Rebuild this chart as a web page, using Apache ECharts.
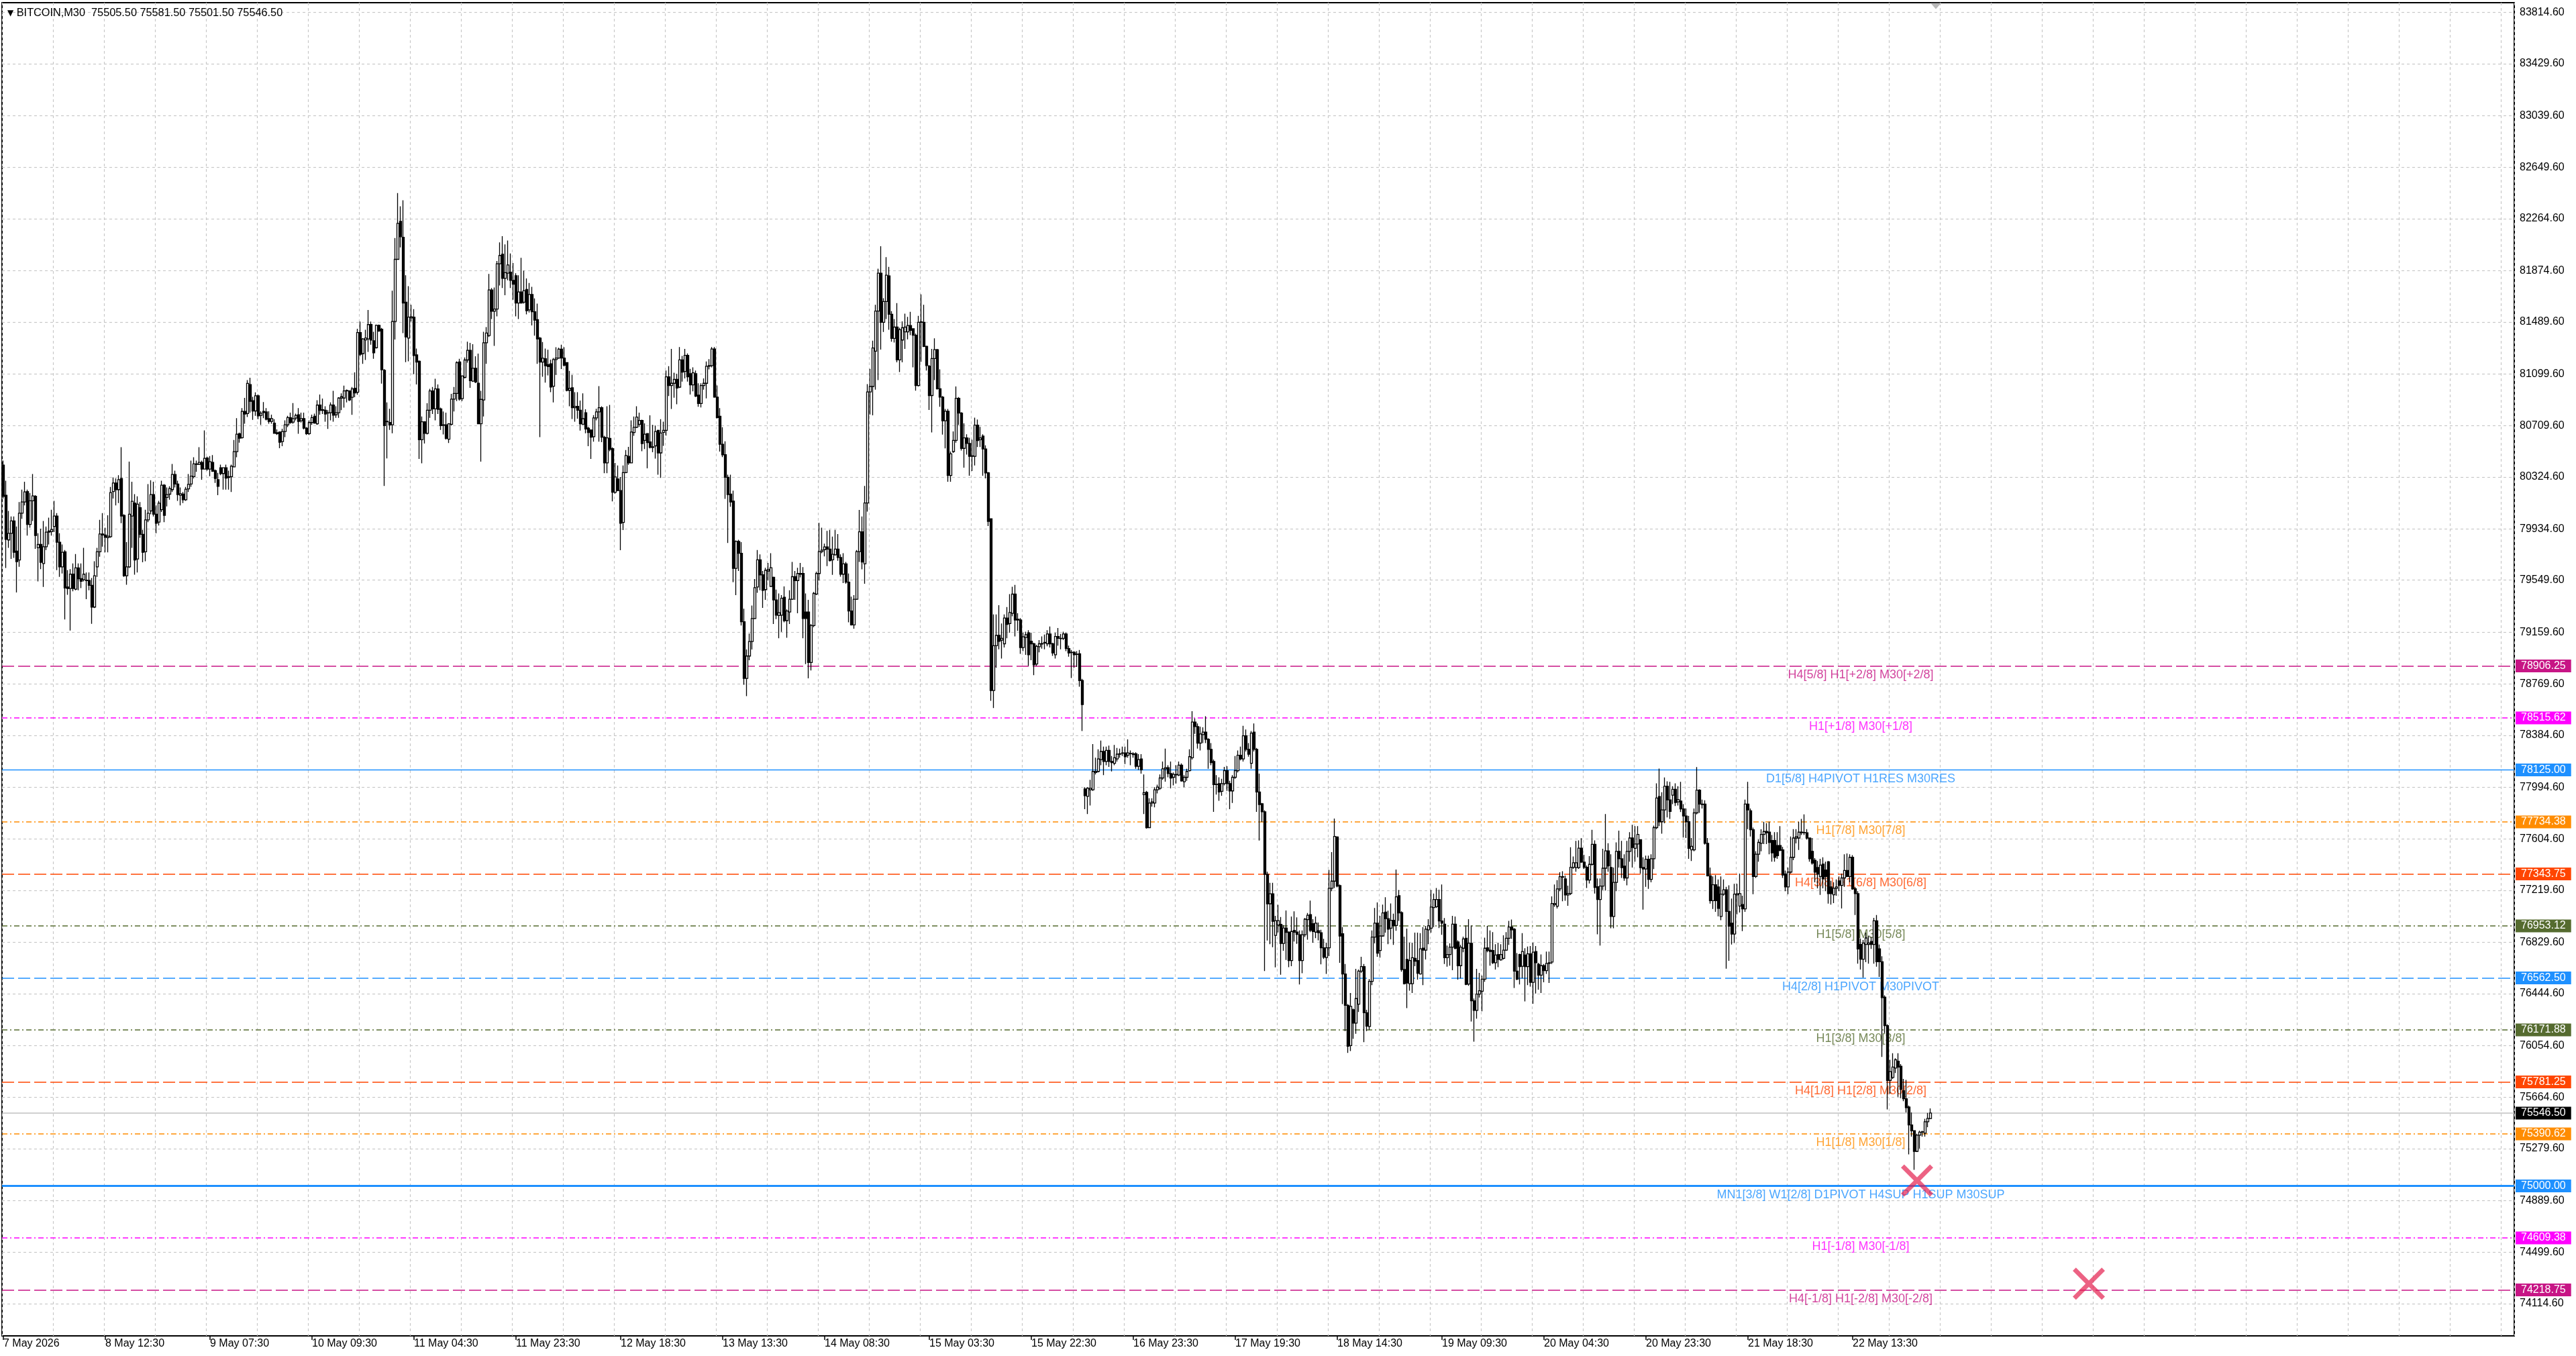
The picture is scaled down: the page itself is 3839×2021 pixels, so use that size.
<!DOCTYPE html>
<html><head><meta charset="utf-8">
<script src="https://cdn.jsdelivr.net/npm/echarts@6/dist/echarts.min.js"></script>
<style>html,body{margin:0;padding:0;background:#fff;overflow:hidden}#c{width:3839px;height:2021px}</style>
</head><body><div id="c"></div>
<script>
const symbolName = 'BITCOIN';
const timeframe = 'M30';
// [open, close, low, high]
const candles = [
[80415,80179,80163,80448],[80188,79857,79642,80297],[79852,79902,79793,80070],[79902,79995,79709,80028],[79995,79759,79717,80028],
[79768,79689,79457,79953],[79701,80053,79650,80137],[80053,80137,80011,80230],[80137,80213,80112,80289],[80216,79969,79885,80230],
[79969,80146,79944,80205],[80146,80183,79995,80347],[80180,79885,79785,80188],[79793,79818,79541,79902],[79818,79684,79633,79936],
[79675,79801,79499,79995],[79801,79911,79776,79953],[79919,79911,79818,80020],[79914,79931,79885,80079],[79953,80032,79911,80146],
[80032,79835,79625,80053],[79835,79650,79575,79902],[79650,79759,79600,79818],[79763,79491,79255,79776],[79499,79487,79440,79625],
[79487,79595,79171,79633],[79595,79487,79466,79675],[79482,79642,79474,79746],[79642,79561,79474,79675],[79561,79541,79491,79675],
[79554,79595,79541,79793],[79550,79547,79407,79608],[79547,79511,79474,79608],[79511,79348,79222,79566],[79348,79583,79340,79692],
[79650,79763,79575,79793],[79763,79897,79726,80003],[79897,79889,79801,80053],[79889,79872,79759,79944],[79869,79880,79759,80037],
[79877,80208,79869,80250],[80216,80280,80163,80322],[80280,80230,80112,80314],[80230,80305,80129,80339],[80314,80032,79978,80549],
[80037,79583,79575,80045],[79583,79650,79516,79835],[79650,80045,79642,80440],[80032,80142,79793,80289],[80129,79701,79591,80196],
[79709,80121,79608,80179],[80095,79894,79869,80137],[79894,79759,79684,79927],[79763,80003,79692,80079],[80003,80053,79986,80272],
[80070,80193,80045,80300],[80193,80045,80028,80289],[80045,79978,79902,80112],[79986,80129,79961,80146],[80079,80263,80062,80297],
[80263,80037,79986,80272],[80171,80193,80104,80247],[80196,80238,80154,80255],[80230,80344,80213,80423],[80344,80272,80247,80373],
[80272,80193,80146,80297],[80188,80199,80112,80247],[80196,80154,80129,80213],[80154,80233,80146,80250],[80236,80270,80213,80347],
[80272,80331,80252,80448],[80328,80423,80314,80473],[80423,80420,80364,80448],[80420,80435,80415,80549],[80435,80384,80305,80448],
[80384,80465,80381,80675],[80468,80384,80373,80478],[80384,80440,80331,80482],[80435,80368,80364,80490],[80373,80314,80280,80381],
[80305,80255,80188,80356],[80394,80351,80339,80418],[80351,80394,80230,80398],[80394,80317,80230,80418],[80322,80327,80230,80373],
[80327,80406,80213,80418],[80401,80515,80398,80603],[80515,80646,80473,80767],[80650,80616,80583,80658],[80620,80818,80613,80843],
[80818,80798,80725,80919],[80801,81028,80776,81053],[81019,80893,80809,81070],[80898,80821,80754,80927],[80821,80935,80784,80961],
[80935,80784,80759,80944],[80788,80804,80717,80818],[80818,80809,80767,80888],[80814,80759,80751,80843],[80764,80742,80725,80818],
[80742,80764,80725,80793],[80730,80653,80650,80759],[80658,80650,80641,80683],[80663,80586,80541,80667],[80591,80667,80557,80687],
[80667,80717,80625,80751],[80717,80771,80700,80784],[80771,80734,80725,80809],[80737,80764,80725,80880],[80767,80788,80751,80801],
[80793,80742,80650,80843],[80747,80764,80734,80809],[80764,80692,80683,80809],[80692,80650,80641,80700],[80650,80734,80641,80751],
[80734,80771,80717,80793],[80781,80730,80725,80801],[80725,80865,80717,80902],[80865,80826,80793,80944],
[80830,80825,80798,80914],[80827,80798,80740,80856],[80805,80808,80686,80827],[80808,80866,80750,80885],[80866,80789,80740,80972],
[80792,80808,80769,80856],[80808,80918,80769,80924],[80918,80928,80827,80953],[80918,80972,80846,81011],[80972,80975,80885,80982],
[80972,80904,80895,80976],[80924,80987,80792,81001],[80991,80956,80924,81111],[80962,81410,80943,81439],[81410,81246,81232,81493],
[81252,81362,81175,81368],[81355,81368,81204,81431],[81362,81470,81265,81580],[81470,81354,81319,81493],[81348,81258,81213,81416],
[81296,81464,81290,81470],[81464,81422,81416,81470],[81435,81130,81026,81445],[81126,80711,80258,81136],[80740,80743,80464,80885],
[80735,80717,80678,80837],[80717,81493,80653,81725],[81493,81960,81358,82120],[81960,82230,81956,82458],[82246,82130,82049,82358],
[82126,81632,81406,82404],[81638,81377,81188,81840],[81368,81526,81194,81759],[81520,81528,81493,81618],[81526,81238,81097,81586],
[81242,81188,81020,81290],[81194,80605,80460,81200],[80605,80740,80428,80779],[80740,80653,80576,80744],[80653,80827,80644,80879],
[80827,80972,80769,80987],[80972,80837,80798,81001],[80837,80987,80750,81063],[80987,80833,80798,81020],[80837,80711,80678,80846],
[80717,80714,80644,80817],[80717,80615,80605,80808],[80609,80725,80580,80729],[80721,80910,80711,80949],[80910,80953,80817,81001],
[80953,81184,80895,81194],[81190,80910,80899,81213],[80914,81084,80895,81088],[81073,81204,81065,81223],[81204,81277,81184,81342],
[81277,81049,80995,81333],[81045,81142,81039,81323],[81142,81039,81030,81232],[81030,80725,80721,81252],[80725,80908,80441,80972],
[80904,81333,80779,81416],[81333,81406,81175,81451],[81387,81730,81377,81850],[81730,81570,81512,81744],[81570,81586,81310,81748],
[81586,81927,81532,81947],[81927,81989,81763,82087],[81999,81817,81744,82134],[81817,81860,81690,82072],[81856,81918,81802,82101],
[81864,81802,81744,82004],[81802,81773,81657,81933],[81837,81632,81532,81856],[81632,81715,81512,81840],[81715,81632,81628,81972],
[81638,81725,81628,81875],[81734,81574,81547,81817],[81580,81696,81561,81782],[81696,81566,81464,81754],[81566,81503,81387,81667],
[81507,81362,81175,81628],[81368,81188,80624,81377],[81188,81217,81078,81339],[81213,81161,81034,81290],[81169,81155,81088,81281],
[81175,81001,80962,81207],[81007,81207,80885,81219],[81207,81219,81092,81300],[81219,81285,81213,81296],[81285,81219,81136,81319],
[81219,81165,81155,81300],[81184,80976,80968,81188],[80976,80991,80856,81122],[80995,80846,80760,81092],[80846,80856,80740,80962],
[80856,80827,80763,80962],[80827,80725,80673,80899],[80721,80763,80717,80953],[80808,80686,80653,80833],[80692,80659,80557,80702],
[80678,80624,80460,80682],[80628,80769,80590,80789],[80769,80814,80750,80837],[80814,80846,80590,81007],[80846,80624,80586,80856],
[80624,80431,80354,80634],[80431,80619,80354,80856],[80615,80532,80518,80866],[80538,80210,80142,80547],[80210,80325,80200,80431],
[80310,80223,80219,80412],[80223,79978,79775,80325],[79984,80358,79926,80412],[80358,80486,80354,80528],[80480,80431,80416,80551],
[80431,80663,80428,80750],[80659,80698,80634,80779],[80698,80775,80692,80856],[80721,80750,80702,80808],[80750,80576,80518,80756],
[80600,80646,80535,80728],[80651,80583,80390,80655],[80588,80547,80540,80788],[80547,80552,80511,80716],[80559,80667,80463,80711],
[80675,80506,80342,80680],[80506,80655,80318,80759],[80660,80675,80559,80740],[80675,81077,80636,81125],[81077,81012,80933,81157],
[81012,81029,80836,81287],[81029,81058,80920,81108],[81058,80993,80872,81101],[81000,81205,80993,81301],[81205,81113,81041,81234],
[81118,81239,81065,81287],[81239,81077,81041,81253],[81101,81017,80945,81137],[81017,81108,80969,81149],[81101,80933,80925,81125],
[80940,80877,80853,81029],[80877,81012,80848,81029],[81012,81029,80981,81065],[81029,81157,80916,81193],[81157,81162,81133,81210],
[81162,81287,81149,81301],[81287,80925,80920,81301],[80925,80771,80764,81012],[80781,80571,80516,80843],[80571,80492,80475,80699],
[80492,80323,80161,80593],[80323,80193,79829,80342],[80197,80137,80101,80342],[80144,79638,79535,80222],[79638,79841,79438,79848],
[79841,79752,79619,79853],[79752,79238,79209,79836],[79238,78812,78764,79335],[78812,78980,78679,79029],[78980,79089,78949,79149],
[79089,79262,79029,79359],[79262,79494,79257,79559],[79499,79703,79455,79776],[79703,79590,79474,79744],[79590,79474,79342,79619],
[79479,79624,79402,79643],[79619,79631,79547,79679],[79503,79643,79499,79752],[79571,79402,79221,79576],[79402,79287,79257,79479],
[79284,79306,79113,79450],[79287,79414,79161,79438],[79421,79246,79233,79503],[79246,79318,79118,79330],[79311,79407,79221,79474],
[79407,79576,79402,79687],[79576,79547,79402,79619],[79547,79600,79301,79643],[79595,79600,79571,79679],[79600,79262,79113,79648],
[79311,79262,78920,79450],[79311,78932,78812,79402],[78932,79209,78872,79221],[79209,79450,79197,79462],[79446,79600,79438,79614],
[79600,79764,79547,79981],[79764,79776,79752,79944],[79779,79800,79728,79824],[79800,79783,79655,79920],[79783,79696,79691,79927],
[79703,79744,79590,79877],[79740,79783,79735,79927],[79783,79720,79696,79896],[79720,79595,79576,79744],[79595,79672,79528,79752],
[79672,79535,79523,79687],[79535,79318,79233,79600],[79318,79214,79209,79426],[79214,79407,79185,79438],[79407,79764,79402,79776],
[79764,79913,79687,80077],[79913,79687,79631,80029],[79672,80130,79523,80258],[80130,80964,80065,81022],[80964,81005,80795,81137],
[81005,81294,80788,81349],[81270,81571,80981,81619],[81571,81856,81053,81889],[81856,81487,81282,82058],[81487,81643,81415,81668],
[81643,81841,81511,81976],[81836,81547,81431,81904],[81547,81366,81342,81571],[81366,81451,81335,81511],[81451,81205,81186,81631],
[81205,81431,81113,81446],[81354,81446,81186,81494],[81415,81451,81287,81552],[81415,81463,81359,81528],[81463,81427,81390,81566],
[81439,81390,81149,81439],[81390,81012,80974,81402],[81012,81487,81005,81535],[81487,81490,81190,81697],[81487,81306,81301,81619],
[81306,81162,81125,81311],[81157,80937,80829,81166],[80937,81215,80660,81287],[81215,81282,81053,81366],[81282,80988,80981,81287],
[80988,80925,80853,81133],[80925,80747,80643,80933],[80747,80819,80540,80836],[80819,80337,80289,80836],[80337,80499,80289,80516],
[80516,80600,80506,80667],[80600,80916,80583,81005],[80916,80805,80716,80925],[80805,80540,80523,80812],[80540,80619,80395,80728],
[80619,80577,80494,80646],[80577,80480,80334,80619],[80480,80484,80370,80605],[80480,80715,80411,80771],[80715,80599,80550,80757],
[80605,80619,80550,80701],[80632,80536,80334,80646],[80536,80356,80315,80563],[80356,79992,79956,80362],[80011,78721,78644,80011],
[78721,79058,78589,79293],[79058,79135,78892,79293],[79135,79091,79030,79362],[79099,79113,78961,79224],[79072,79265,79044,79293],
[79265,79218,79113,79348],[79224,79307,79155,79445],[79301,79445,79279,79500],[79445,79251,79127,79514],[79256,79251,79169,79301],
[79251,79044,78997,79265],[79044,79124,79017,79155],[79119,79141,78989,79163],[79155,78989,78906,79174],[79091,79072,78948,79155],
[79072,78914,78837,79080],[78920,79053,78906,79064],[79050,79072,79008,79100],[79070,79074,79036,79127],[79078,79082,79030,79141],
[79072,79146,79053,79174],[79146,79072,79044,79202],[79072,79003,78981,79080],[78989,79127,78961,79155],[79127,79113,79058,79191],
[79113,79111,79030,79146],[79113,79146,79100,79163],[79146,79036,79017,79155],[79036,79003,78975,79058],[79008,79006,78815,79025],
[79008,78989,78892,79017],[78992,78995,78898,79017],[78997,78796,78749,79025],[78796,78616,78417,78809],[77981,77931,77829,77995],
[77926,77986,77793,77995],[77975,77986,77857,78050],[77975,78113,77967,78318],[78105,78113,78091,78216],[78113,78207,78105,78279],
[78202,78263,78160,78345],[78263,78188,78086,78299],[78188,78271,78160,78299],[78271,78188,78147,78307],[78188,78180,78113,78229],
[78174,78216,78160,78312],[78207,78243,78188,78290],[78243,78246,78216,78285],[78250,78252,78229,78299],[78252,78224,78169,78299],
[78235,78252,78216,78354],[78248,78246,78160,78271],[78246,78240,78216,78257],[78246,78152,78133,78257],[78152,78202,78125,78243],
[78207,78125,78097,78243],[77939,77953,77793,78091],[77956,77691,77683,77967],[77691,77876,77691,77912],[77876,77884,77848,77912],
[77876,77975,77843,77995],[77975,77995,77948,78014],[77986,78064,77975,78091],[78064,78133,78050,78188],[78133,78141,78036,78285],
[78141,78097,78069,78160],[78097,78064,77986,78188],[78069,78091,78009,78105],[78091,78088,78022,78160],[78086,78160,78078,78188],
[78160,78042,78036,78174],[78036,78069,77995,78086],[78069,78113,78042,78133],[78119,78224,78113,78279],[78216,78484,78202,78566],
[78484,78450,78395,78511],[78450,78326,78285,78473],[78326,78395,78271,78450],[78390,78409,78326,78445],[78409,78354,78326,78528],
[78354,78279,78133,78362],[78279,78180,78160,78326],[78188,78014,77810,78202],[78014,78017,77939,78086],[78022,77959,77893,78069],
[77964,78022,77931,78058],[78022,78119,78009,78147],[78119,78022,77967,78152],[78022,77967,77829,78042],[77967,78069,77876,78086],
[78069,78119,78058,78229],[78119,78235,78105,78271],[78235,78207,78196,78299],[78207,78381,78188,78456],[78381,78279,78263,78428],
[78279,78243,78224,78326],[78174,78401,78133,78417],[78409,78279,78263,78473],[78279,77959,77810,78290],[77959,77865,77594,78097],
[77870,77810,77732,77876],[77810,77340,76614,77821],[77340,77119,76843,77359],[77119,77194,76815,77277],[77194,76987,76793,77277],
[76881,76992,76641,77028],[76959,76992,76904,77111],[76964,76821,76586,77020],[76821,76937,76766,76959],[76937,76904,76697,77069],
[76906,76692,76642,76911],[76692,76911,76650,77023],[76919,76906,76835,77062],[76906,76889,76818,77017],[76886,76692,76513,76919],
[76692,76886,76597,76919],[76886,77003,76869,77012],[77000,77033,76849,77050],[77037,76919,76906,77143],[76970,76911,76827,77003],
[76906,76973,76860,77023],[76916,76902,76844,76978],[76902,76788,76664,76923],[76788,76718,76704,76855],[76715,76788,76592,76827],
[76788,77235,76726,77373],[77235,77289,77213,77507],[77289,77625,77238,77759],[77621,77252,77242,77625],[77255,76877,76676,77264],
[76894,76592,76365,76944],[76592,76356,76163,76667],[76356,76049,75999,76365],[76054,76348,76012,76449],[76323,76222,76104,76331],
[76222,76407,76143,76630],[76365,76613,76306,76625],[76613,76647,76600,76721],[76647,76301,76079,76667],[76301,76200,76163,76323],
[76197,76536,76172,76553],[76536,76869,76508,76919],[76869,76973,76822,77087],[76973,76748,76721,77129],[76768,76877,76714,77028],
[76877,77050,76872,77112],[77057,77007,76902,77168],[77007,76928,76815,77067],[76936,76995,76852,77121],[76995,76956,76810,77045],
[76956,77171,76916,77376],[77180,77050,76990,77222],[77053,76625,76608,77062],[76625,76519,76513,76872],[76701,76524,76335,76933],
[76519,76692,76466,76827],[76519,76714,76449,76827],[76709,76687,76650,76902],[76692,76597,76550,76902],[76592,76781,76587,76899],
[76785,76771,76508,76944],[76771,76928,76701,76953],[76923,76953,76815,77003],[76936,77094,76902,77222],[77091,77151,76944,77196],
[77097,77151,77087,77238],[77151,76990,76936,77225],[76990,76973,76886,77264],[76966,76714,76667,77012],[76714,76738,76647,76805],
[76738,76793,76654,76822],[76793,76966,76620,77028],[76966,76785,76776,77023],[76832,76654,76550,76844],[76654,76793,76558,76810],
[76785,76855,76755,76872],[76860,76513,76508,76956],[76516,76822,76503,77003],[76822,76390,76234,76956],[76390,76318,76083,76407],
[76318,76440,76256,76630],[76440,76466,76415,76600],[76462,76553,76311,76580],[76553,76785,76533,76865],[76788,76768,76755,76953],
[76771,76760,76654,76919],[76768,76676,76667,76906],[76676,76734,76625,76815],[76738,76701,76642,76827],[76697,76738,76692,76815],
[76709,76771,76701,76882],[76771,76860,76765,76906],[76860,76944,76810,76990],[76944,76923,76855,77000],[76928,76613,76486,76936],
[76613,76553,76546,76748],[76738,76647,76513,76743],[76650,76760,76558,76899],[76734,76647,76385,76785],[76647,76743,76508,76798],
[76743,76529,76496,76802],[76529,76755,76368,76827],[76760,76676,76445,76802],[76664,76583,76474,76676],[76583,76654,76449,76738],
[76654,76617,76529,76667],[76617,76671,76592,76760],[76671,76676,76524,76760],[76681,77121,76667,77175],[77112,77121,77096,77264],
[77101,77230,77084,77297],[77230,77322,77213,77356],[77322,77319,77138,77364],[77306,77185,77141,77331],[77185,77196,77104,77255],
[77196,77393,77185,77544],[77393,77427,77381,77474],[77390,77427,77359,77591],[77390,77537,77381,77595],[77537,77432,77427,77611],
[77432,77393,77381,77487],[77393,77297,77238,77406],[77297,77415,77272,77477],[77415,77566,77406,77675],[77566,77242,77196,77595],
[77247,77151,76889,77309],[77151,77252,76805,77309],[77252,77386,77222,77532],[77386,77516,77218,77793],[77516,77403,77359,77574],
[77391,77024,76935,77491],[77024,77280,76935,77391],[77280,77513,77213,77580],[77513,77457,77391,77668],[77457,77391,77313,77591],
[77402,77313,77291,77491],[77313,77513,77257,77591],[77513,77613,77435,77657],[77613,77542,77391,77713],[77535,77568,77435,77702],
[77568,77640,77468,77702],[77600,77391,77346,77602],[77391,77380,77075,77468],[77380,77453,77246,77480],[77453,77302,77231,77480],
[77302,77457,77280,77491],[77457,77691,77380,77706],[77691,77913,77680,78024],[77924,77735,77702,78135],[77735,77824,77646,77957],
[77824,78002,77724,78068],[78002,77900,77768,78039],[77900,77813,77757,78035],[77935,77979,77868,78002],[77979,77879,77853,78024],
[77884,77902,77857,78002],[77890,77831,77808,78035],[77831,77779,77617,77868],[77779,77735,77613,77835],[77735,77535,77457,77779],
[77524,77551,77440,77613],[77524,77802,77513,77835],[77802,77973,77791,78146],[77973,77868,77802,77979],[77868,77865,77835,77902],
[77868,77573,77564,77897],[77573,77329,77324,77613],[77329,77142,77120,77391],[77142,77262,77080,77324],[77262,77142,77058,77335],
[77246,77084,77024,77302],[77024,77191,76995,77324],[77191,77224,77180,77302],[77224,77062,76631,77246],[77062,76951,76691,77257],
[76973,76891,76813,77158],[76891,77191,76824,77269],[77186,77195,77040,77269],[77102,77195,77053,77346],[77113,77080,76913,77180],
[77080,77868,77058,77902],[77868,77824,77680,78035],[77817,77675,77624,77835],[77675,77324,77191,77691],[77324,77491,77313,77513],
[77491,77580,77435,77602],[77573,77640,77513,77679],[77640,77662,77568,77735],[77662,77653,77568,77724],[77657,77580,77491,77735],
[77595,77502,77435,77635],[77595,77468,77435,77657],[77557,77480,77457,77657],[77557,77520,77513,77702],[77524,77335,77313,77546],
[77342,77246,77213,77369],[77246,77357,77191,77391],[77357,77468,77346,77624],[77468,77613,77446,77680],[77613,77624,77573,77680],
[77613,77657,77524,77735],[77657,77653,77635,77757],[77653,77655,77635,77791],[77653,77613,77602,77680],[77613,77457,77435,77617],
[77513,77424,77413,77613],[77446,77357,77280,77462],[77391,77342,77235,77440],[77324,77409,77186,77457],[77417,77306,77235,77468],
[77373,77324,77213,77435],[77435,77195,77120,77440],[77246,77195,77113,77291],[77186,77235,77124,77280],[77235,77246,77180,77302],
[77291,77257,77213,77324],[77257,77313,77084,77346],[77313,77369,77246,77491],[77369,77324,77324,77497],[77324,77468,77280,77491],
[77468,77231,77224,77484],[77231,77195,77035,77246],[77195,76780,76669,77213],[76813,76702,76625,76858],[76702,76824,76565,76847],
[76813,76862,76680,76902],[76813,76824,76669,76880],[76836,76813,76780,76869],[76813,76991,76669,77013],[76991,76684,76647,77035],
[76780,76684,76569,76813],[76684,76414,75969,76724],[76418,76203,76147,76431],[76203,75792,75574,76214],[75792,75858,75692,75947],
[75814,75892,75803,75996],[75885,75947,75847,75958],[75936,75892,75669,75996],[75898,75725,75658,75914],[75714,75654,75636,75803],
[75654,75587,75552,75796],[75592,75458,75236,75603],[75458,75414,75370,75552],[75414,75259,75121,75418],[75259,75381,75254,75392],
[75381,75403,75281,75414],[75403,75406,75370,75414],[75396,75481,75370,75503],[75481,75507,75441,75547],[75505.5,75546.5,75501.5,75581.5]
];
const timeLabels = ['7 May 2026','8 May 12:30','9 May 07:30','10 May 09:30','11 May 04:30','11 May 23:30','12 May 18:30','13 May 13:30','14 May 08:30','15 May 03:30','15 May 22:30','16 May 23:30','17 May 19:30','18 May 14:30','19 May 09:30','20 May 04:30','20 May 23:30','21 May 18:30','22 May 13:30'];
const timeLabelBars = [0,38,77,115,153,191,230,268,306,345,383,421,459,497,536,574,612,650,689];
const priceTicks = [83814.60,83429.60,83039.60,82649.60,82264.60,81874.60,81489.60,81099.60,80709.60,80324.60,79934.60,79549.60,79159.60,78769.60,78384.60,77994.60,77604.60,77219.60,76829.60,76444.60,76054.60,75664.60,75279.60,74889.60,74499.60,74114.60];
const priceMin = 73873, priceMax = 83888;
const levelValues = [78906.25,78515.62,78125.00,77734.38,77343.75,76953.12,76562.50,76171.88,75781.25,75390.62,75000.00,74609.38,74218.75];
const levelNames = ['H4[5/8] H1[+2/8] M30[+2/8]','H1[+1/8] M30[+1/8]','D1[5/8] H4PIVOT H1RES M30RES','H1[7/8] M30[7/8]','H4[3/8] H1[6/8] M30[6/8]','H1[5/8] M30[5/8]','H4[2/8] H1PIVOT M30PIVOT','H1[3/8] M30[3/8]','H4[1/8] H1[2/8] M30[2/8]','H1[1/8] M30[1/8]','MN1[3/8] W1[2/8] D1PIVOT H4SUP H1SUP M30SUP','H1[-1/8] M30[-1/8]','H4[-1/8] H1[-2/8] M30[-2/8]'];
const targetMarks = [[713, 75040], [777, 74265]];

// ---- styling ----
const FONT = "'Liberation Sans',Arial,sans-serif";
const N_SLOTS = 936;
const LABEL_BAR = 692;
const SHIFT_BAR = 720;
const levelColors = ['#C71585','#FF00FF','#1E90FF','#FF8C00','#FF4500','#556B2F','#1E90FF','#556B2F','#FF4500','#FF8C00','#1E90FF','#FF00FF','#C71585'];
const DASH = [18,6], DASHDOT = [8,4,2,4];
const levelDash = [DASH,DASHDOT,'solid',DASHDOT,DASH,DASHDOT,DASH,DASHDOT,DASH,DASHDOT,'solid',DASHDOT,DASH];
const levelWidth = [1.6,1.6,1.3,1.6,1.6,1.6,1.6,1.6,1.6,1.6,3,1.6,1.6];

const cats = [];
for (let i = 0; i < N_SLOTS; i++) cats.push(i);
const last = candles[candles.length - 1];
const bid = last[1];

const chart = echarts.init(document.getElementById('c'), null, {renderer: 'canvas'});

const markLines = levelValues.map((v, i) => ({
  yAxis: v,
  lineStyle: {color: levelColors[i], type: levelDash[i], width: levelWidth[i]},
  label: {backgroundColor: levelColors[i]}
}));
markLines.push({yAxis: bid, lineStyle: {color: '#c0c0c0', type: 'solid', width: 1.5}, label: {backgroundColor: '#000'}});

chart.setOption({
  animation: false,
  backgroundColor: '#fff',
  title: {
    text: '{t|▼} ' + symbolName + ',' + timeframe + '  ' + [last[0], last[3], last[2], last[1]].map(x => x.toFixed(2)).join(' '),
    left: 6, top: 7,
    textStyle: {fontFamily: FONT, fontSize: 16.3, fontWeight: 'normal', color: '#000',
      rich: {t: {fontSize: 12, color: '#000', fontFamily: 'DejaVu Sans'}}}
  },
  grid: {left: 3, right: 92, top: 4, bottom: 30, show: true, borderColor: '#000', borderWidth: 2, backgroundColor: 'transparent', outerBoundsMode: 'none', containLabel: false},
  xAxis: {
    type: 'category', data: cats, boundaryGap: true,
    axisLine: {show: false},
    axisTick: {show: true, alignWithLabel: true, length: 6, lineStyle: {color: '#000', width: 1.5},
      interval: (idx) => timeLabelBars.indexOf(idx) >= 0},
    axisLabel: {show: true, align: 'left', margin: 4, color: '#000', fontFamily: FONT, fontSize: 16,
      interval: (idx) => timeLabelBars.indexOf(idx) >= 0,
      formatter: (val, idx) => { const k = timeLabelBars.indexOf(idx); return k >= 0 ? timeLabels[k] : ''; }},
    splitLine: {show: true, interval: 18, lineStyle: {color: '#c8c8c8', type: [4, 4], width: 1.2}}
  },
  yAxis: {
    type: 'value', position: 'right', min: priceMin, max: priceMax, scale: true,
    axisLine: {show: false},
    axisTick: {show: false, customValues: priceTicks},
    axisLabel: {show: true, customValues: priceTicks, margin: 8, color: '#000', fontFamily: FONT, fontSize: 16,
      formatter: (v) => v.toFixed(2)},
    splitLine: {show: true, lineStyle: {color: '#c8c8c8', type: [4, 4], width: 1.2}}
  },
  series: [
    {
      type: 'scatter', name: 'levels', z: 1, clip: false, silent: true,
      symbolSize: 1, itemStyle: {color: 'transparent'},
      data: levelValues.map((v, i) => ({
        value: [LABEL_BAR, v],
        label: {show: true, position: 'bottom', distance: 4, formatter: levelNames[i],
          color: levelColors[i], fontFamily: FONT, fontSize: 18}
      })),
      markLine: {
        silent: true, symbol: ['none', 'none'], animation: false,
        emphasis: {disabled: true},
        label: {show: true, position: 'end', distance: 2, color: '#fff', fontFamily: FONT, fontSize: 16,
          lineHeight: 17, padding: [1, 8, 1, 8], formatter: (p) => Number(p.value).toFixed(2)},
        data: markLines
      }
    },
    {
      type: 'candlestick', name: symbolName, z: 5, large: false, barWidth: 3.2, silent: true,
      itemStyle: {color: '#ffffff', color0: '#000000', borderColor: '#000000', borderColor0: '#000000', borderWidth: 1.3},
      data: candles
    },
    {
      type: 'scatter', name: 'targets', z: 6, silent: true, clip: false,
      symbol: 'path://M0,2 L2,0 L10,8 L18,0 L20,2 L12,10 L20,18 L18,20 L10,12 L2,20 L0,18 L8,10 Z',
      symbolSize: 48,
      itemStyle: {color: 'rgba(228,32,78,0.88)'},
      data: targetMarks
    },
    {
      type: 'scatter', name: 'shift', z: 6, silent: true, clip: false,
      symbol: 'triangle', symbolRotate: 180, symbolSize: [16, 9], symbolOffset: [0, 5],
      itemStyle: {color: '#a8a8a8'},
      data: [[SHIFT_BAR, priceMax]]
    }
  ]
});
</script></body></html>
